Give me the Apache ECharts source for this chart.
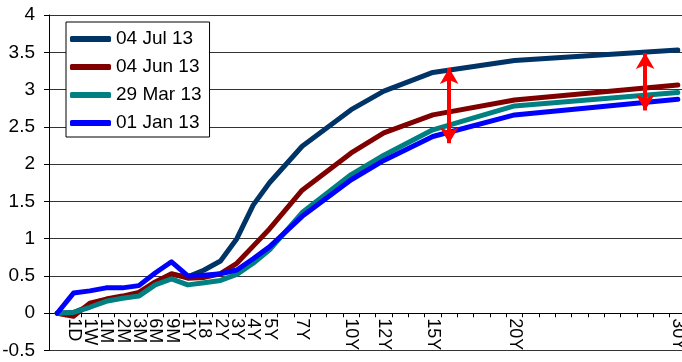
<!DOCTYPE html>
<html>
<head>
<meta charset="utf-8">
<script src="https://cdn.jsdelivr.net/npm/echarts@6/dist/echarts.min.js"></script>
<style>
  html, body { margin: 0; padding: 0; background: #fff; }
  #chart { width: 682px; height: 362px; }
</style>
</head>
<body>
<div id="chart"></div>
<script>
// tenor labels and their slot on the axis (one slot per year past 5Y)
var tenorLabels = ['', '1D', '1W', '1M', '2M', '3M', '6M', '9M', '1Y', '18', '2Y', '3Y', '4Y', '5Y', '7Y', '10Y', '12Y', '15Y', '20Y', '30Y'];
var tenorSlots  = [0, 1, 2, 3, 4, 5, 6, 7, 8, 9, 10, 11, 12, 13, 15, 18, 20, 23, 28, 38];
var slotCount = 39;

var seriesNames = ['04 Jul 13', '04 Jun 13', '29 Mar 13', '01 Jan 13'];
var jul13 = [0, 0.01, 0.10, 0.17, 0.21, 0.25, 0.40, 0.52, 0.49, 0.58, 0.70, 1.00, 1.45, 1.75, 2.24, 2.73, 2.98, 3.23, 3.39, 3.53];
var jun13 = [0, -0.04, 0.135, 0.19, 0.23, 0.28, 0.42, 0.53, 0.47, 0.48, 0.53, 0.67, 0.90, 1.13, 1.65, 2.15, 2.42, 2.66, 2.86, 3.06];
var mar13 = [0, 0.01, 0.08, 0.16, 0.20, 0.23, 0.38, 0.46, 0.38, 0.41, 0.44, 0.52, 0.67, 0.85, 1.35, 1.86, 2.12, 2.46, 2.78, 2.96];
var jan13 = [0, 0.27, 0.30, 0.34, 0.34, 0.37, 0.54, 0.69, 0.50, 0.51, 0.53, 0.58, 0.73, 0.89, 1.30, 1.79, 2.05, 2.37, 2.66, 2.87];
var colors = ['#003366', '#800000', '#008080', '#0000ff'];

// red double arrows: slot, top value, bottom value
var arrowSlots = [24, 36];
var arrowTop = [3.29, 3.49];
var arrowBottom = [2.28, 2.72];

var categories = [];
for (var i = 0; i < slotCount; i++) categories.push('');
for (var i = 0; i < tenorSlots.length; i++) categories[tenorSlots[i]] = tenorLabels[i];

function pairs(vals) {
    var out = [];
    for (var i = 0; i < vals.length; i++) out.push([tenorSlots[i], vals[i]]);
    return out;
}

var arrowData = [];
for (var i = 0; i < arrowSlots.length; i++) {
    arrowData.push([{ coord: [arrowSlots[i], arrowTop[i]] }, { coord: [arrowSlots[i], arrowBottom[i]] }]);
}

var font = '"Liberation Sans", Arial, sans-serif';
var gridTop = 15, gridBottom = 11.5, yMin = -0.5, yMax = 4;
// x axis sits on the zero line: shift it up from the grid bottom
var zeroShift = (362 - gridTop - gridBottom) * (0 - yMin) / (yMax - yMin);

var allVals = [jul13, jun13, mar13, jan13];
var series = [];
for (var s = 0; s < allVals.length; s++) {
    var item = {
        name: seriesNames[s],
        type: 'line',
        data: pairs(allVals[s]),
        showSymbol: false,
        lineStyle: { color: colors[s], width: 5, cap: 'round', join: 'round' },
        itemStyle: { color: colors[s] }
    };
    if (s === allVals.length - 1) {
        item.markLine = {
            silent: true,
            symbol: ['arrow', 'arrow'],
            symbolSize: [14, 16],
            label: { show: false },
            lineStyle: { color: '#ff0000', width: 4, type: 'solid' },
            emphasis: { disabled: true },
            data: arrowData
        };
    }
    series.push(item);
}

var myChart = echarts.init(document.getElementById('chart'));
var option = {
    animation: false,
    backgroundColor: '#fff',
    grid: { left: 49, right: -4, top: gridTop, bottom: gridBottom, outerBoundsMode: 'none', containLabel: false },
    legend: {
        data: seriesNames,
        orient: 'vertical',
        left: 66,
        top: 22,
        padding: [7, 8, 4, 4],
        itemGap: 8,
        itemWidth: 41,
        itemHeight: 6,
        icon: 'roundRect',
        borderColor: '#000',
        borderWidth: 1,
        borderRadius: 0,
        backgroundColor: '#fff',
        textStyle: { fontFamily: font, fontSize: 19, color: '#000', lineHeight: 20 }
    },
    xAxis: {
        type: 'category',
        data: categories,
        boundaryGap: true,
        position: 'bottom',
        offset: -zeroShift,
        axisLine: { onZero: false, lineStyle: { color: '#000', width: 1 } },
        axisTick: { show: true, interval: 0, length: 4, lineStyle: { color: '#000' } },
        axisLabel: { interval: 0, rotate: -90, margin: 5, fontFamily: font, fontSize: 18, color: '#000' },
        splitLine: { show: false }
    },
    yAxis: {
        type: 'value',
        min: yMin,
        max: yMax,
        interval: 0.5,
        axisLine: { show: true, lineStyle: { color: '#000', width: 1 } },
        axisTick: { show: true, length: 5, lineStyle: { color: '#000' } },
        axisLabel: { margin: 14, fontFamily: font, fontSize: 19, color: '#000' },
        splitLine: { show: true, lineStyle: { color: '#333', width: 1 } }
    },
    series: series
};
myChart.setOption(option);
</script>
</body>
</html>
